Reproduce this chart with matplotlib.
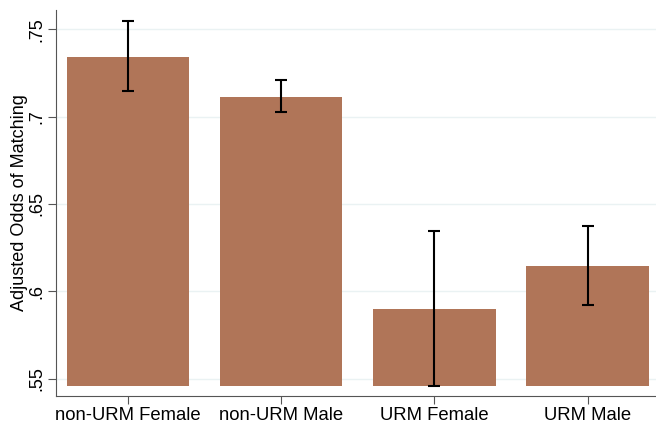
import numpy as np
import matplotlib.pyplot as plt

plt.rcParams['font.family'] = ['Liberation Sans', 'DejaVu Sans']

groups = ['non-URM Female', 'non-URM Male', 'URM Female', 'URM Male']
odds = [0.7342, 0.7114, 0.5901, 0.6147]
ci_low = [0.7146, 0.7029, 0.5458, 0.5922]
ci_high = [0.7546, 0.7211, 0.6343, 0.6372]
yticks = [0.55, 0.6, 0.65, 0.7, 0.75]
ytick_labels = ['.55', '.6', '.65', '.7', '.75']

base = 0.5458
bar_color = '#b07558'

fig = plt.figure(figsize=(6.56, 4.25), dpi=100)
ax = fig.add_axes([0.0854, 0.0690, 0.92, 0.907])

x = np.arange(len(groups))
heights = np.array(odds) - base
ax.bar(x, heights, bottom=base, width=0.8, color=bar_color, zorder=2)

yerr = [np.array(odds) - np.array(ci_low), np.array(ci_high) - np.array(odds)]
ax.errorbar(x, odds, yerr=yerr, fmt='none', ecolor='black', elinewidth=1.5,
            capsize=4.5, capthick=1.5, zorder=3)

ax.set_xlim(-0.47, 3.47)
ax.set_ylim(0.5402, 0.7609)
ax.set_xticks(x)
ax.set_xticklabels(groups, fontsize=13.3)
ax.set_yticks(yticks)
ax.set_yticklabels(ytick_labels, rotation=90, va='center', fontsize=13)
ax.set_ylabel('Adjusted Odds of Matching', fontsize=13, labelpad=0)

ax.grid(axis='y', color='#eaf2f3', linewidth=1, zorder=0)
ax.set_axisbelow(True)
for s in ['top', 'right']:
    ax.spines[s].set_visible(False)
for s in ['left', 'bottom']:
    ax.spines[s].set_color('#555555')
ax.tick_params(color='#555555', length=6, pad=2)

fig.savefig('out.png', dpi=100)
